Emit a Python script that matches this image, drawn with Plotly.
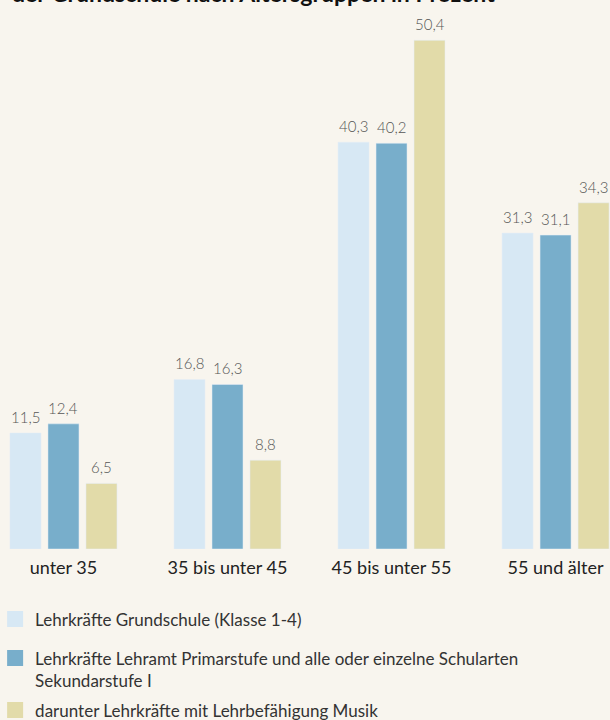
import plotly.graph_objects as go

# Altersgruppen der Lehrkräfte an der Grundschule (in Prozent)
kategorien = ["unter 35", "35 bis unter 45", "45 bis unter 55", "55 und älter"]
grundschule = [11.5, 16.8, 40.3, 31.3]
primarstufe = [12.4, 16.3, 40.2, 31.1]
musik = [6.5, 8.8, 50.4, 34.3]

namen = [
    "Lehrkräfte Grundschule (Klasse 1-4)",
    "Lehrkräfte Lehramt Primarstufe und alle oder einzelne Schularten<br>Sekundarstufe I",
    "darunter Lehrkräfte mit Lehrbefähigung Musik",
]
farben = ["#d7e8f4", "#78aecb", "#e2dba9"]
serien = [grundschule, primarstufe, musik]
legenden = ["legend", "legend2", "legend3"]

fig = go.Figure()
for i, (werte, name, farbe) in enumerate(zip(serien, namen, farben)):
    fig.add_trace(go.Bar(x=kategorien, y=werte, marker_color=farbe,
                         showlegend=False, hoverinfo="skip"))
    # nur für die Legende (größeres Quadrat)
    fig.add_trace(go.Scatter(x=[kategorien[0]], y=[None], mode="markers", name=name,
                             marker=dict(symbol="square", size=16, color=farbe),
                             legend=legenden[i], hoverinfo="skip"))
    # Wertebeschriftung über den Balken
    for k, w in zip(kategorien, werte):
        fig.add_annotation(x=k, y=w, text=f"{w:.1f}".replace(".", ","),
                           showarrow=False, yanchor="bottom", yshift=5,
                           xshift=(i - 1) * 38,
                           font=dict(family="Lato", size=15, weight=300, color="#555555"))

# Titel (oben abgeschnitten)
fig.add_annotation(x=0, xref="paper", xanchor="left", xshift=10,
                   y=1, yref="paper", yanchor="bottom", yshift=-5,
                   text="<b>der Grundschule nach Altersgruppen in Prozent</b>",
                   showarrow=False,
                   font=dict(family="Lato", size=23, color="#111111"))

leg = dict(orientation="v", x=-0.008, xanchor="left", yanchor="top",
           valign="top", bgcolor="rgba(0,0,0,0)",
           font=dict(family="Lato", size=17, color="#333333"))

fig.update_layout(
    width=610, height=720,
    margin=dict(l=0, r=0, t=4, b=171, autoexpand=False),
    paper_bgcolor="#f8f5ee", plot_bgcolor="#f8f5ee",
    barmode="group", bargap=0.305, bargroupgap=0.184,
    font=dict(family="Lato", color="#222222"),
    xaxis=dict(type="category", range=[-0.387, 3.332], autorange=False,
               showgrid=False, zeroline=False,
               showline=False, ticks="", tickangle=0, ticklabelstandoff=6,
               tickfont=dict(size=18, color="#222222")),
    yaxis=dict(range=[0, 54], visible=False),
    legend=dict(leg, y=-0.0963),
    legend2=dict(leg, y=-0.1679),
    legend3=dict(leg, y=-0.2633),
)

fig.write_html("out.html", config={"displayModeBar": False},
               post_script="document.body.style.margin='0';")
